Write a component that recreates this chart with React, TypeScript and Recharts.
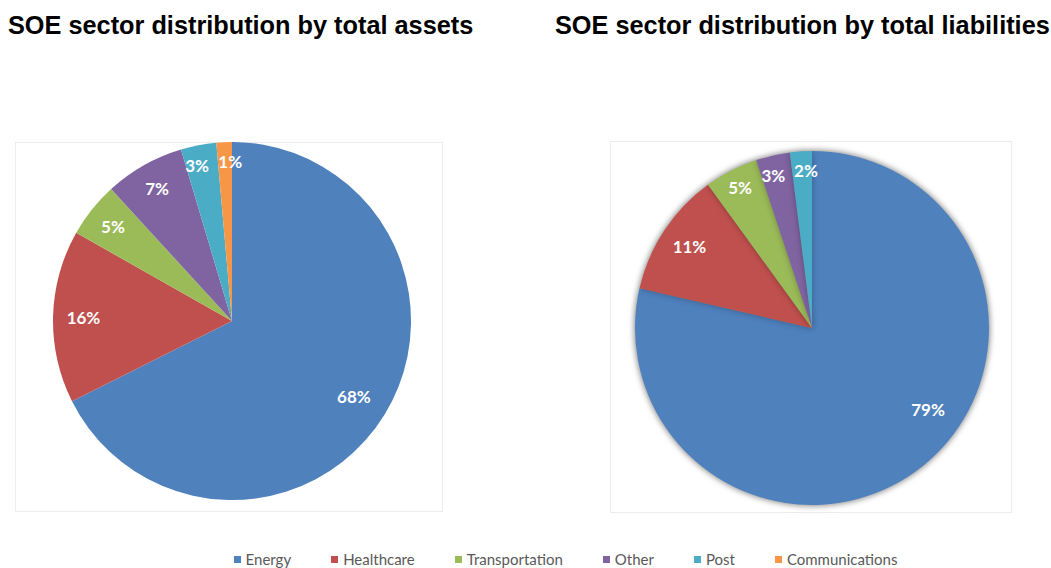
import React from 'react';
import { PieChart, Pie, Cell, Legend } from 'recharts';

const CATEGORIES = ['Energy', 'Healthcare', 'Transportation', 'Other', 'Post', 'Communications'];
const ASSETS = [67.6, 15.6, 5.0, 7.2, 3.2, 1.4];
const LIABILITIES = [78.6, 11.4, 4.9, 3.1, 2.0, 0];
const TITLES = ['SOE sector distribution by total assets', 'SOE sector distribution by total liabilities'];

const COLORS = ['#4F81BD', '#C0504D', '#9BBB59', '#8064A2', '#4BACC6', '#F79646'];

const assetData = CATEGORIES.map((name, i) => ({ name, value: ASSETS[i] }));
const liabilityData = CATEGORIES.map((name, i) => ({ name, value: LIABILITIES[i] }));

const RADIAN = Math.PI / 180;

// label angles (clockwise from 12 o'clock), roughly what excel's "best fit" does:
// big slices keep the label in the lower right, neighbouring small labels get spread apart
const labelAngles = (values: number[]) => {
  const total = values.reduce((a, b) => a + b, 0);
  let acc = 0;
  const mids = values.map((v) => {
    const start = acc;
    acc += (v / total) * 360;
    return (start + acc) / 2;
  });
  const out = mids.map((m, i) => (values[i] > 50 ? Math.min(m, 125) : m));
  for (let i = 0; i < values.length - 1; i++) {
    if (values[i] < 5 && values[i + 1] < 5 && values[i + 1] > 0) {
      const gap = out[i + 1] - out[i];
      if (gap < 12) {
        const push = (12 - gap) / 2;
        out[i] -= push;
        out[i + 1] += push;
      }
    }
  }
  return out;
};

const makeLabel = (values: number[]) => {
  const angles = labelAngles(values);
  const total = values.reduce((a, b) => a + b, 0);
  return (props: any) => {
    const { cx, cy, outerRadius, index, value } = props;
    if (!value) return null;
    const k = value > 50 ? 0.8 : value >= 10 ? 0.83 : value >= 5 ? 0.85 : 0.89;
    const r = outerRadius * k;
    const a = angles[index] * RADIAN;
    const x = cx + r * Math.sin(a);
    const y = cy - r * Math.cos(a);
    return (
      <text
        x={x}
        y={y}
        fill="#ffffff"
        textAnchor="middle"
        dominantBaseline="central"
        style={{ fontFamily: 'Lato, sans-serif', fontWeight: 700, fontSize: 17 }}
      >
        {`${Math.round((value / total) * 100)}%`}
      </text>
    );
  };
};

const renderLegend = () => (
  <div
    style={{
      display: 'flex',
      justifyContent: 'center',
      fontFamily: 'Lato, sans-serif',
      fontSize: 15,
      color: '#595959',
    }}
  >
    {CATEGORIES.map((c, i) => (
      <div key={c} style={{ display: 'flex', alignItems: 'center', marginRight: i < CATEGORIES.length - 1 ? 40 : 0 }}>
        <span style={{ display: 'inline-block', width: 7, height: 7, background: COLORS[i], marginRight: 5 }} />
        <span>{c}</span>
      </div>
    ))}
  </div>
);

const titleStyle: React.CSSProperties = {
  position: 'absolute',
  top: 11,
  fontFamily: '"Liberation Sans", Arial, sans-serif',
  fontWeight: 700,
  fontSize: 25.3,
  lineHeight: '29px',
  color: '#000',
  whiteSpace: 'nowrap',
};

const boxStyle: React.CSSProperties = {
  position: 'absolute',
  border: '1px solid #ececec',
  boxSizing: 'border-box',
};

const App: React.FC = () => {
  return (
    <div style={{ position: 'absolute', left: 0, top: 0, width: 1051, height: 568, background: '#fff', overflow: 'hidden' }}>
      <style>{`.liab-pie { filter: drop-shadow(0 0 3px rgba(0,0,0,0.3)); }`}</style>
      <div style={{ ...titleStyle, left: 8 }}>{TITLES[0]}</div>
      <div style={{ ...titleStyle, left: 555 }}>{TITLES[1]}</div>
      <div style={{ ...boxStyle, left: 15, top: 142, width: 428, height: 370 }} />
      <div style={{ ...boxStyle, left: 610, top: 141, width: 402, height: 372 }} />
      <div style={{ position: 'absolute', left: 0, top: 0 }}>
        <PieChart width={1051} height={568} margin={{ top: 0, right: 0, bottom: 0, left: 0 }}>
          <Pie
            data={assetData}
            dataKey="value"
            nameKey="name"
            cx={232}
            cy={321}
            outerRadius={179}
            startAngle={90}
            endAngle={-270}
            stroke="none"
            labelLine={false}
            label={makeLabel(ASSETS)}
            isAnimationActive={false}
          >
            {assetData.map((entry, index) => (
              <Cell key={`a-${index}`} fill={COLORS[index % COLORS.length]} />
            ))}
          </Pie>
          <Pie
            data={liabilityData}
            dataKey="value"
            nameKey="name"
            className="liab-pie"
            cx={812}
            cy={328}
            outerRadius={177}
            startAngle={90}
            endAngle={-270}
            stroke="none"
            labelLine={false}
            label={makeLabel(LIABILITIES)}
            legendType="none"
            isAnimationActive={false}
          >
            {liabilityData.map((entry, index) => (
              <Cell key={`l-${index}`} fill={COLORS[index % COLORS.length]} />
            ))}
          </Pie>
          <Legend
            verticalAlign="bottom"
            content={renderLegend}
            wrapperStyle={{ left: 40, width: 1051, bottom: 0 }}
          />
        </PieChart>
      </div>
    </div>
  );
};

export default App;
